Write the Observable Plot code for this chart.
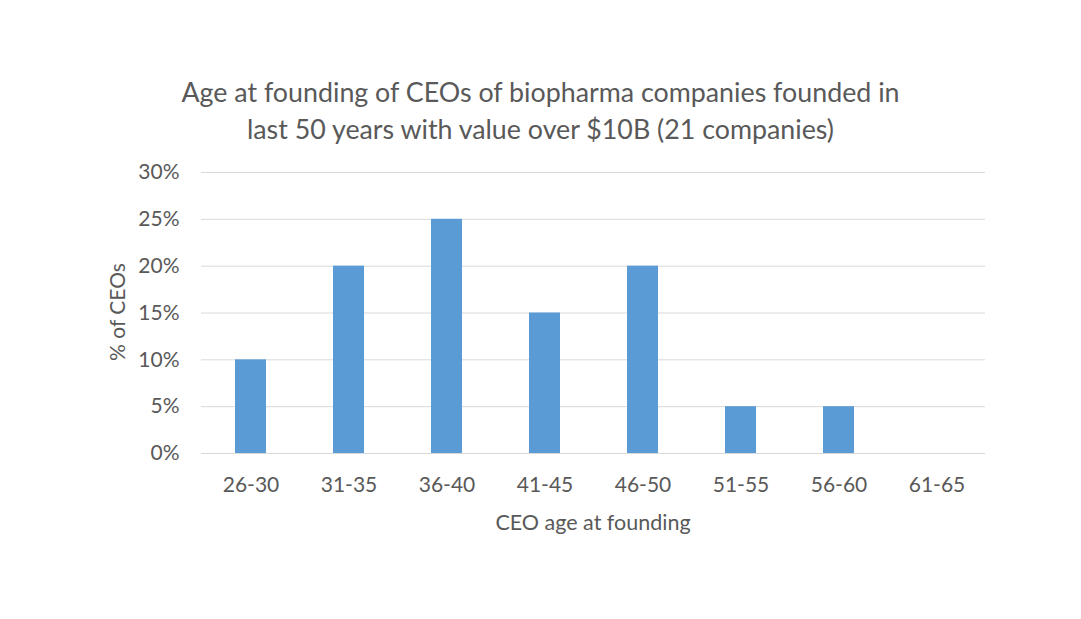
<!DOCTYPE html>
<html>
<head>
<meta charset="utf-8">
<script src="https://cdn.jsdelivr.net/npm/d3@7"></script>
<script src="https://cdn.jsdelivr.net/npm/@observablehq/plot@0.6"></script>
<style>
  html, body { margin: 0; padding: 0; background: #fff; }
  #wrap { position: relative; width: 1081px; height: 619px; font-family: Lato, "Open Sans", sans-serif; color: #595959; }
  .title { position: absolute; left: 0; width: 1081px; text-align: center; font-size: 26.8px; line-height: 37px; top: 74px; }
  .ylab { position: absolute; left: 116px; top: 312px; transform: translate(-50%, -50%) rotate(-90deg); font-size: 21px; white-space: nowrap; }
  .xlab { position: absolute; left: 593px; top: 522px; transform: translate(-50%, -50%); font-size: 21.5px; white-space: nowrap; }
  #chart { position: absolute; left: 0; top: 0; }
</style>
</head>
<body>
<div id="wrap">
  <div id="chart"></div>
  <div class="title">Age at founding of CEOs of biopharma companies founded in<br>last 50 years with value over $10B (21 companies)</div>
  <div class="ylab">% of CEOs</div>
  <div class="xlab">CEO age at founding</div>
</div>
<script>
const ageGroups = ["26-30", "31-35", "36-40", "41-45", "46-50", "51-55", "56-60", "61-65"];
const shares = [0.10, 0.20, 0.25, 0.15, 0.20, 0.05, 0.05, 0.00];
const yTicks = [0, 0.05, 0.10, 0.15, 0.20, 0.25, 0.30];

const data = ageGroups.map((g, i) => ({group: g, share: shares[i]}));

const chart = Plot.plot({
  width: 1081,
  height: 619,
  marginLeft: 201,
  marginRight: 96,
  marginTop: 172,
  marginBottom: 166,
  style: { fontFamily: "Lato, 'Open Sans', sans-serif", fontSize: "21px", color: "#595959", background: "transparent" },
  x: { domain: ageGroups, paddingInner: 0.684, paddingOuter: 0.342, label: null },
  y: { domain: [0, 0.30], label: null },
  marks: [
    Plot.gridY(yTicks, { stroke: "#D9D9D9", strokeOpacity: 1, strokeWidth: 1 }),
    Plot.barY(data, { x: "group", y: "share", fill: "#5B9BD5" }),
    Plot.axisY(yTicks, { tickSize: 0, tickPadding: 22, tickFormat: d3.format(".0%"), label: null, fill: "#595959" }),
    Plot.axisX({ tickSize: 0, tickPadding: 24, label: null, fill: "#595959" })
  ]
});
document.getElementById("chart").appendChild(chart);
</script>
</body>
</html>
